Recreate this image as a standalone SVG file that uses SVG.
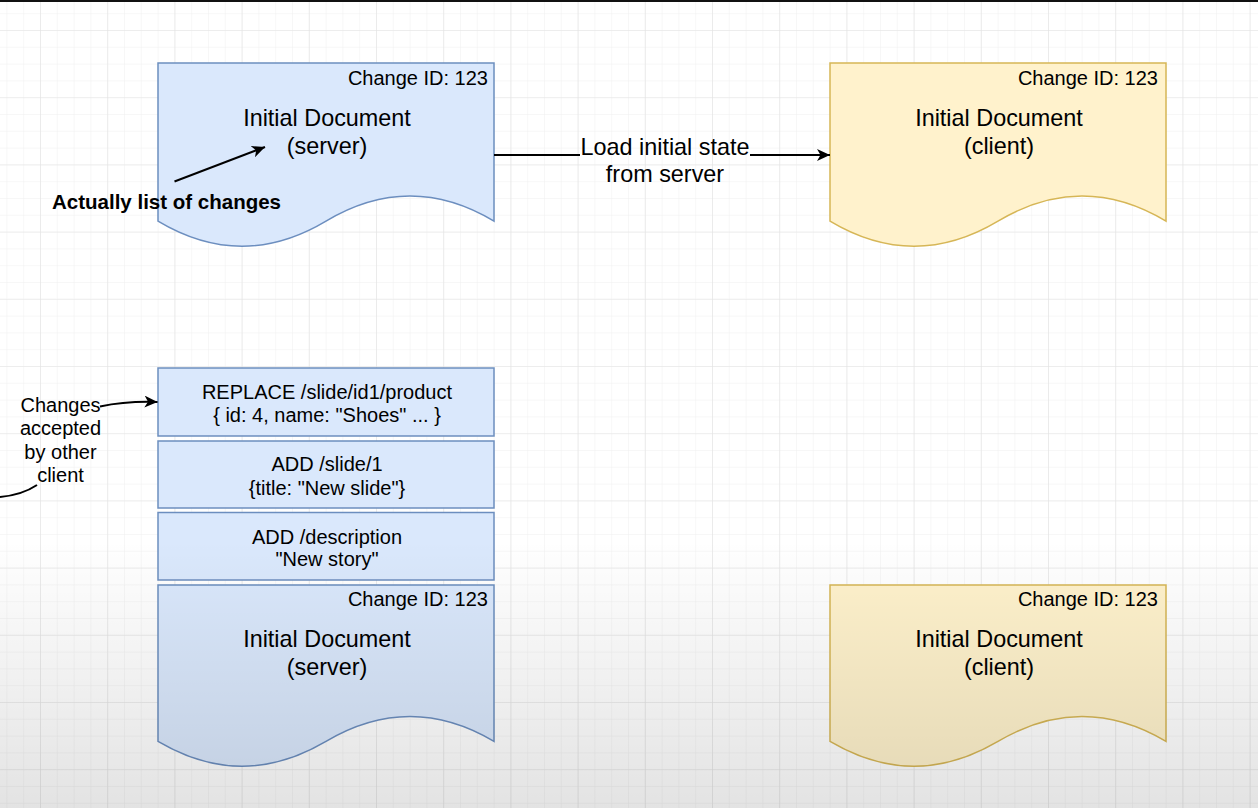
<svg xmlns="http://www.w3.org/2000/svg" width="1258" height="808" viewBox="0 0 1258 808">
<style>
.t{font-family:"Liberation Sans",Arial,Helvetica,sans-serif;fill:#000;text-anchor:middle}
.big{font-size:23.4px}
.mid{font-size:20px}
.cid{font-size:20px;text-anchor:end}
.bold{font-size:20.5px;font-weight:bold}
.blue{fill:#dae8fc;stroke:#6c8ebf;stroke-width:1.5}
.yel{fill:#fff2cc;stroke:#d6b656;stroke-width:1.5}
.edge{fill:none;stroke:#000;stroke-width:2}
</style>
<defs>
<pattern id="minor" x="6.4" y="13.2" width="16.8" height="16.8" patternUnits="userSpaceOnUse">
<path d="M0,0 V16.8 M0,0 H16.8" fill="none" stroke="#f0f0f0" stroke-width="1"/>
</pattern>
<pattern id="major" x="40" y="30" width="67.2" height="67.2" patternUnits="userSpaceOnUse">
<path d="M0,0 V67.2 M0,0 H67.2" fill="none" stroke="#e3e3e3" stroke-width="1.2"/>
</pattern>
<linearGradient id="shade" x1="0" y1="540" x2="0" y2="808" gradientUnits="userSpaceOnUse">
<stop offset="0" stop-color="#000" stop-opacity="0"/>
<stop offset="1" stop-color="#000" stop-opacity="0.11"/>
</linearGradient>
<marker id="arr" markerWidth="14" markerHeight="12" refX="13" refY="6" orient="auto" markerUnits="userSpaceOnUse">
<path d="M0,0 L13,6 L0,12 L3.5,6 Z" fill="#000"/>
</marker>
</defs>
<rect width="1258" height="808" fill="#fff"/>
<rect width="1258" height="808" fill="url(#minor)"/>
<rect width="1258" height="808" fill="url(#major)"/>

<g id="server-top">
<path class="blue" d="M158,63 H494 V221.1 Q410,170.9 326,221.1 Q242,271.3 158,221.1 Z"/>
<text class="t cid" x="488" y="85">Change ID: 123</text>
<text class="t big" x="327" y="126">Initial Document</text>
<text class="t big" x="327" y="153.5">(server)</text>
</g>

<g id="client-top">
<path class="yel" d="M830,63 H1166 V221.1 Q1082,170.9 998,221.1 Q914,271.3 830,221.1 Z"/>
<text class="t cid" x="1158" y="85">Change ID: 123</text>
<text class="t big" x="999" y="126">Initial Document</text>
<text class="t big" x="999" y="153.5">(client)</text>
</g>

<g id="change-replace">
<rect class="blue" x="158" y="368" width="336" height="68"/>
<text class="t mid" x="327" y="398.5">REPLACE /slide/id1/product</text>
<text class="t mid" x="327" y="422">{ id: 4, name: "Shoes" ... }</text>
</g>

<g id="change-add-slide">
<rect class="blue" x="158" y="441" width="336" height="67"/>
<text class="t mid" x="327" y="471.3">ADD /slide/1</text>
<text class="t mid" x="327" y="494.7">{title: "New slide"}</text>
</g>

<g id="change-add-description">
<rect class="blue" x="158" y="512.5" width="336" height="67.5"/>
<text class="t mid" x="327" y="543.7">ADD /description</text>
<text class="t mid" x="327" y="566.3">"New story"</text>
</g>

<g id="server-bottom">
<path class="blue" d="M158,585 H494 V741.4 Q410,691.7 326,741.4 Q242,791.1 158,741.4 Z"/>
<text class="t cid" x="488" y="606.3">Change ID: 123</text>
<text class="t big" x="327" y="646.5">Initial Document</text>
<text class="t big" x="327" y="674.8">(server)</text>
</g>

<g id="client-bottom">
<path class="yel" d="M830,585 H1166 V741.4 Q1082,691.7 998,741.4 Q914,791.1 830,741.4 Z"/>
<text class="t cid" x="1158" y="606.3">Change ID: 123</text>
<text class="t big" x="999" y="646.5">Initial Document</text>
<text class="t big" x="999" y="674.8">(client)</text>
</g>

<g id="label-actually">
<text class="t bold" x="166.5" y="209">Actually list of changes</text>
</g>

<g id="label-changes-accepted">
<text class="t mid" x="60.5" y="412">Changes</text>
<text class="t mid" x="60.5" y="435.3">accepted</text>
<text class="t mid" x="60.5" y="458.7">by other</text>
<text class="t mid" x="60.5" y="482">client</text>
</g>

<g id="connectors">
<path class="edge" d="M494,155 H580 M750,155 H830" marker-end="url(#arr)"/>
<text class="t big" x="665" y="155">Load initial state</text>
<text class="t big" x="665" y="181.5">from server</text>
<path class="edge" d="M174.5,181.5 L265,147" marker-end="url(#arr)"/>
<path class="edge" d="M100,406.5 Q126,401 157.5,402" marker-end="url(#arr)"/>
<path class="edge" d="M0,497 Q22,495 37,485"/>
</g>

<rect x="0" y="540" width="1258" height="268" fill="url(#shade)"/>
<rect x="0" y="0" width="1258" height="2" fill="#111"/>
</svg>
